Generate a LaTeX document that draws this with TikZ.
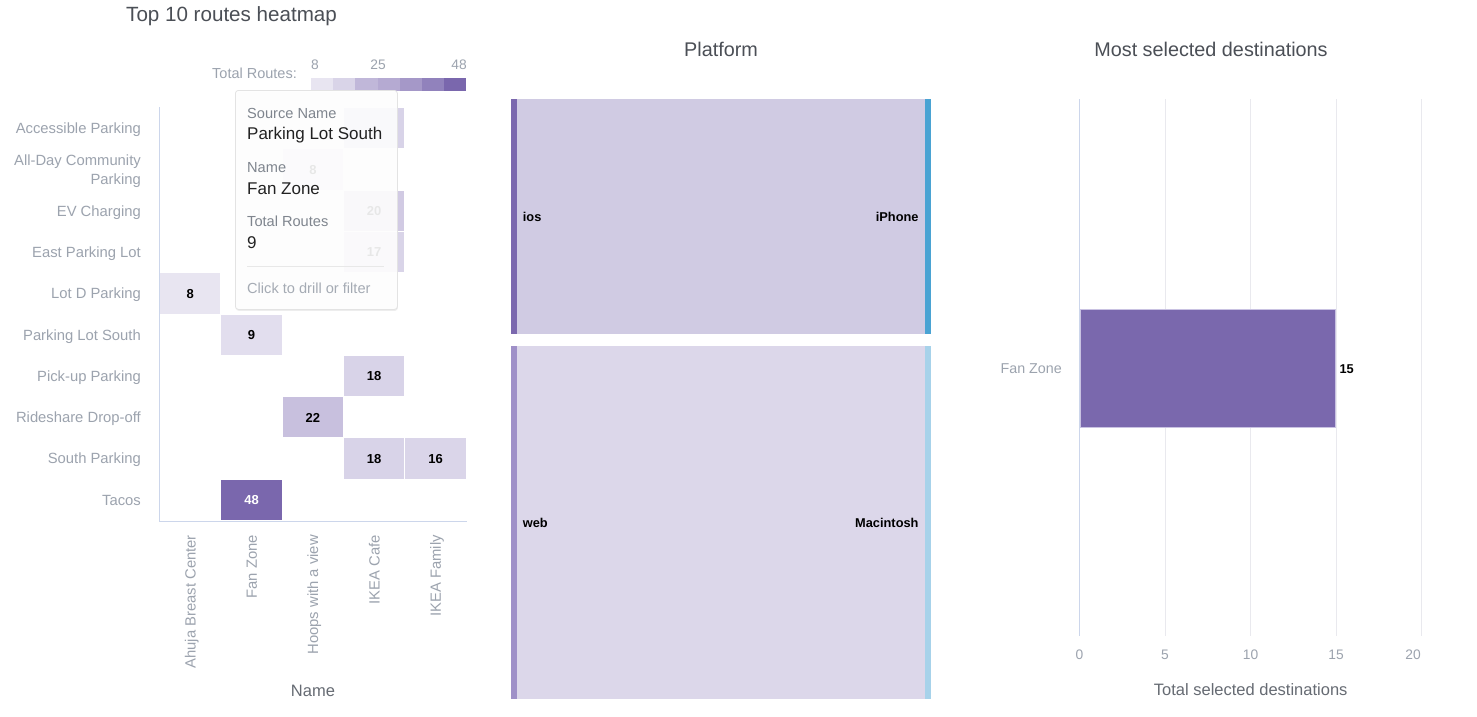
\documentclass[tikz,border=0pt]{standalone}
\usepackage{fontspec}
\setmainfont{Liberation Sans}
\usepackage{xcolor}
\usetikzlibrary{positioning,shadows}

\definecolor{titlegray}{HTML}{4B4F56}
\definecolor{labelgray}{HTML}{9CA3AE}
\definecolor{axisgray}{HTML}{666B73}
\definecolor{tipkey}{HTML}{7F858E}
\definecolor{tipval}{HTML}{222222}
\definecolor{tiphint}{HTML}{A5ABB4}
\definecolor{axisline}{HTML}{CCD6EB}
\definecolor{gridline}{HTML}{E9E9EE}
\definecolor{heat8}{HTML}{E8E5F1}
\definecolor{heat9}{HTML}{E2DEEE}
\definecolor{heat16}{HTML}{DAD5E9}
\definecolor{heat17}{HTML}{D9D4E8}
\definecolor{heat18}{HTML}{D8D3E8}
\definecolor{heat20}{HTML}{D1CAE3}
\definecolor{heat22}{HTML}{C8C0DE}
\definecolor{heat48}{HTML}{7A67AD}
\definecolor{iosbar}{HTML}{7B68AE}
\definecolor{webbar}{HTML}{9F90C8}
\definecolor{iphonebar}{HTML}{4AA3D3}
\definecolor{macbar}{HTML}{A7D2EA}
\definecolor{linkios}{HTML}{D0CBE3}
\definecolor{linkweb}{HTML}{DCD7EA}
\definecolor{barfill}{HTML}{7A68AD}
\definecolor{barline}{HTML}{C9C2E2}

\begin{document}
\begin{tikzpicture}[x=1pt,y=-1pt]
        \tikzset{title/.style={font=\fontsize{19.8}{22}\selectfont, text=titlegray, inner sep=0pt, text height=14.3pt, text depth=0pt},
        rowlabel/.style={anchor=east, font=\fontsize{14.8}{17}\selectfont, text=labelgray, inner sep=0pt, text height=10.6pt, text depth=0pt},
        collabel/.style={rowlabel, rotate=90},
        axistitle/.style={font=\fontsize{16.5}{19}\selectfont, text=axisgray, inner sep=0pt, text height=11.9pt, text depth=0pt},
        tick/.style={font=\fontsize{13.8}{16}\selectfont, text=labelgray, inner sep=0pt, text height=9.9pt, text depth=0pt},
        cell/.style={fill=#1, minimum width=60.3pt, minimum height=40.3pt, inner sep=0pt,
            font=\bfseries\fontsize{13}{15}\selectfont, text height=9.4pt, text depth=0pt},
        tip/.style={draw=black!11, line width=0.8pt, fill=white, fill opacity=0.9, rounded corners=3pt,
            drop shadow={opacity=0.14, shadow xshift=0.5pt, shadow yshift=-1.5pt}},
        tipkey/.style={anchor=west, font=\fontsize{14.6}{17}\selectfont, text=tipkey, inner sep=0pt, text height=10.5pt, text depth=0pt},
        tipvalue/.style={anchor=west, font=\fontsize{17}{20}\selectfont, text=tipval, inner sep=0pt, text height=12.2pt, text depth=0pt},
        sknode/.style={minimum width=6pt, inner sep=0pt, outer sep=0pt},
        sklabel/.style={font=\bfseries\fontsize{12.8}{15}\selectfont, inner sep=0pt, text height=9.2pt, text depth=0pt},
        }
%% background and titles
        \useasboundingbox[fill=white] (0,0) rectangle (1477,717);
        \node [title, anchor=west, font=\fontsize{20.6}{23}\selectfont, text height=14.8pt] (HeatTitle) at (126,14) {Top 10 routes heatmap};
        \node [title] (SankeyTitle) at (721,49.5) {Platform};
        \node [title] (BarTitle) at (1211,49.5) {Most selected destinations};

%% heatmap legend
        \node [rowlabel, font=\fontsize{14.5}{17}\selectfont] (LegendTitle) at (297,73) {Total Routes:};
        \fill[heat8] (311,78) rectangle (333.2,91);
        \fill[heat17] (333.2,78) rectangle (355.4,91);
        \fill[heat22!90!heat48] (355.4,78) rectangle (377.6,91);
        \fill[heat22!75!heat48] (377.6,78) rectangle (399.8,91);
        \fill[heat22!55!heat48] (399.8,78) rectangle (422,91);
        \fill[heat22!30!heat48] (422,78) rectangle (444.2,91);
        \fill[heat48] (444.2,78) rectangle (466.4,91);
        \node [tick] (LegendMin) at (315,65) {8};
        \node [tick] (LegendMid) at (378,65) {25};
        \node [tick] (LegendMax) at (459,65) {48};

%% heatmap axes
        \draw[axisline, line width=0.8pt] (159.5,107) -- (159.5,521) -- (466.5,521);
        \node [rowlabel] (Accessible) at (141,128.2) {Accessible Parking};
        \node [anchor=east, align=right, font=\fontsize{14.8}{18.5}\selectfont, text=labelgray, inner sep=0pt] (AllDay) at (141,171) {All-Day Community\\Parking};
        \node [rowlabel] (EV) at (141,210.8) {EV Charging};
        \node [rowlabel] (East) at (141,252.1) {East Parking Lot};
        \node [rowlabel] (LotD) at (141,293.4) {Lot D Parking};
        \node [rowlabel] (LotSouth) at (141,334.7) {Parking Lot South};
        \node [rowlabel] (Pickup) at (141,376) {Pick-up Parking};
        \node [rowlabel] (Rideshare) at (141,417.3) {Rideshare Drop-off};
        \node [rowlabel] (SouthP) at (141,458.6) {South Parking};
        \node [rowlabel] (Tacos) at (141,499.9) {Tacos};
        \node [collabel] (Ahuja) at (190.2,535) {Ahuja Breast Center};
        \node [collabel] (FanZone) at (251.5,535) {Fan Zone};
        \node [collabel] (Hoops) at (312.9,535) {Hoops with a view};
        \node [collabel] (Cafe) at (374.2,535) {IKEA Cafe};
        \node [collabel] (Family) at (435.6,535) {IKEA Family};
        \node [axistitle] (NameTitle) at (313,691) {Name};

%% heatmap cells
        \node [cell=heat18] (r1c4) at (374.2,128.2) {};
        \node [cell=heat8] (r2c3) at (312.9,169.5) {8};
        \node [cell=heat20] (r3c4) at (374.2,210.8) {20};
        \node [cell=heat17] (r4c4) at (374.2,252.1) {17};
        \node [cell=heat8] (r5c1) at (190.2,293.4) {8};
        \node [cell=heat9] (r6c2) at (251.5,334.7) {9};
        \node [cell=heat18] (r7c4) at (374.2,376) {18};
        \node [cell=heat22] (r8c3) at (312.9,417.3) {22};
        \node [cell=heat18] (r9c4) at (374.2,458.6) {18};
        \node [cell=heat16] (r9c5) at (435.6,458.6) {16};
        \node [cell=heat48, text=white] (r10c2) at (251.5,499.9) {48};

%% tooltip
        \node [tip, minimum width=162pt, minimum height=219pt, anchor=north west] (Tip) at (235,90) {};
        \node [tipkey] (SrcKey) at (247,113) {Source Name};
        \node [tipvalue, below=20pt of SrcKey.west, anchor=west] (SrcVal) {Parking Lot South};
        \node [tipkey, below=54pt of SrcKey.west, anchor=west] (NameKey) {Name};
        \node [tipvalue, below=21pt of NameKey.west, anchor=west] (NameVal) {Fan Zone};
        \node [tipkey, below=54pt of NameKey.west, anchor=west] (RoutesKey) {Total Routes};
        \node [tipvalue, below=21pt of RoutesKey.west, anchor=west] (RoutesVal) {9};
        \node [tipkey, text=tiphint, below=175pt of SrcKey.west, anchor=west] (Hint) {Click to drill or filter};
        \draw[black!9, line width=0.8pt] (247,266) -- (384,266);

%% sankey
        \node [sknode, fill=iosbar, minimum height=235pt, anchor=north west] (iosBar) at (510.7,99) {};
        \node [sknode, fill=iphonebar, minimum height=235pt, anchor=north east] (iPhoneBar) at (930.7,99) {};
        \node [sknode, fill=webbar, minimum height=353pt, anchor=north west] (webBar) at (510.7,346) {};
        \node [sknode, fill=macbar, minimum height=353pt, anchor=north east] (MacBar) at (930.7,346) {};
        \fill[linkios] (iosBar.north east) rectangle (iPhoneBar.south west);
        \fill[linkweb] (webBar.north east) rectangle (MacBar.south west);
        \node [sklabel, anchor=west, right=6pt of iosBar] (ios) {ios};
        \node [sklabel, anchor=east, left=6pt of iPhoneBar] (iPhone) {iPhone};
        \node [sklabel, anchor=west, right=6pt of webBar] (web) {web};
        \node [sklabel, anchor=east, left=6pt of MacBar] (Mac) {Macintosh};

%% bar chart
        \draw[gridline, line width=0.8pt] (1165,99) -- (1165,636)
                    (1250.5,99) -- (1250.5,636)
                    (1336,99) -- (1336,636)
                    (1421.5,99) -- (1421.5,636);
        \draw[axisline, line width=0.8pt] (1079.5,99) -- (1079.5,636);
        \node [draw=barline, fill=barfill, line width=0.8pt, minimum width=255pt, minimum height=118pt, inner sep=0pt, anchor=north west] (FanBar) at (1079.5,309) {};
        \node [sklabel, right=4pt of FanBar] (FanValue) {15};
        \node [rowlabel, font=\fontsize{14.3}{17}\selectfont, left=17.5pt of FanBar] (FanLabel) {Fan Zone};
        \node [tick] (t0) at (1079.5,655) {0};
        \node [tick] (t5) at (1165,655) {5};
        \node [tick] (t10) at (1250.5,655) {10};
        \node [tick] (t15) at (1336,655) {15};
        \node [tick] (t20) at (1413,655) {20};
        \node [axistitle] (BarAxisTitle) at (1250.7,690) {Total selected destinations};
\end{tikzpicture}
\end{document}
